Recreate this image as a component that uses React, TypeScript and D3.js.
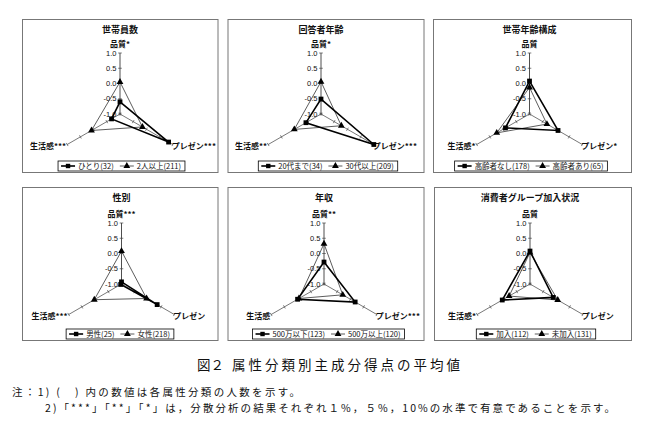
import React from "react";
import * as d3 from "d3";

// ---- data ----
const axisNames = ["品質", "プレゼン", "生活感"];
const tickValues = [1.0, 0.5, 0.0, -0.5, -1.0];
const tickLabels = ["1.0", "0.5", "0.0", "-0.5", "-1.0"];

const panelTitles = ["世帯員数", "回答者年齢", "世帯年齢構成", "性別", "年収", "消費者グループ加入状況"];
const axisStars = [
  ["*", "***", "***"],
  ["*", "***", "**"],
  ["", "*", "*"],
  ["***", "", "***"],
  ["**", "***", ""],
  ["", "", "*"],
];
const seriesANames = ["ひとり(32)", "20代まで(34)", "高齢者なし(178)", "男性(25)", "500万以下(123)", "加入(112)"];
const seriesBNames = ["2人以上(211)", "30代以上(209)", "高齢者あり(65)", "女性(218)", "500万以上(120)", "未加入(131)"];
// values in order [品質, プレゼン, 生活感]
const seriesAValues = [
  [-0.6, 0.84, -0.68],
  [-0.51, 1.0, -0.43],
  [0.08, 0.08, -0.09],
  [-0.93, 0.35, -0.97],
  [-0.28, 0.18, 0.0],
  [0.08, -0.12, 0.05],
];
const seriesBValues = [
  [0.05, -0.15, 0.08],
  [0.06, -0.23, 0.01],
  [-0.13, -0.34, 0.24],
  [0.08, -0.05, 0.03],
  [0.32, -0.29, -0.05],
  [0.03, 0.05, -0.21],
];

const figureCaptionHead = "図２";
const figureCaption = "属性分類別主成分得点の平均値";
const note1 = "注：1) (　) 内の数値は各属性分類の人数を示す。";
const note2 = "2)「***」「**」「*」は，分散分析の結果それぞれ１%，５%，10%の水準で有意であることを示す。";

// ---- layout ----
const panels = [
  { x: 22.5, y: 19.5, w: 195.5, h: 153, cx: 120, cy: 114, lx: 121.5, ly: 161 },
  { x: 228, y: 19.5, w: 196, h: 153, cx: 321, cy: 114, lx: 328, ly: 161 },
  { x: 433.5, y: 19.5, w: 198, h: 153, cx: 529.5, cy: 114, lx: 531, ly: 161 },
  { x: 22.5, y: 187.5, w: 195.5, h: 153, cx: 121.5, cy: 284, lx: 120, ly: 329 },
  { x: 228, y: 187.5, w: 196, h: 153, cx: 324, cy: 284, lx: 328.5, ly: 329 },
  { x: 434.5, y: 187.5, w: 197, h: 153, cx: 530, cy: 284, lx: 536, ly: 329 },
];

const R = 61;
const rScale = d3.scaleLinear().domain([-1, 1]).range([0, R]);
const angles = [-90, 30, 150].map((d) => (d * Math.PI) / 180);
const FONT = "'Noto Sans CJK JP', 'Noto Sans', sans-serif";
const NUMFONT = "'Liberation Sans', Arial, sans-serif";

function pt(cx: number, cy: number, i: number, v: number): [number, number] {
  const r = rScale(v);
  return [cx + r * Math.cos(angles[i]), cy + r * Math.sin(angles[i])];
}

function textW(s: string, fs: number) {
  let w = 0;
  for (const ch of s) {
    const c = ch.charCodeAt(0);
    if (c > 255) w += fs;
    else if (ch === "(" || ch === ")") w += 0.33 * fs;
    else if (ch >= "0" && ch <= "9") w += 0.556 * fs;
    else w += 0.5 * fs;
  }
  return w;
}

const closedLine = d3.line<[number, number]>().curve(d3.curveLinearClosed);
const triPath = d3.symbol().type(d3.symbolTriangle).size(20)() as string;

function Panel({ idx }: { idx: number }) {
  const p = panels[idx];
  const { cx, cy } = p;
  const ptsA = seriesAValues[idx].map((v, i) => pt(cx, cy, i, v));
  const ptsB = seriesBValues[idx].map((v, i) => pt(cx, cy, i, v));
  const legFs = 7.5;
  const t1 = seriesANames[idx];
  const t2 = seriesBNames[idx];
  const w1 = textW(t1, legFs);
  const w2 = textW(t2, legFs);
  const sw = 14;
  const legW = 3 + sw + 3 + w1 + 6 + sw + 3 + w2 + 4;
  const lx0 = p.lx - legW / 2;
  const lh = 10;
  const lyMid = p.ly + lh / 2;
  const s1x = lx0 + 3;
  const tx1 = s1x + sw + 3;
  const s2x = tx1 + w1 + 6;
  const tx2 = s2x + sw + 3;
  return (
    <g>
      <rect x={p.x} y={p.y} width={p.w} height={p.h} fill="#fff" stroke="#777" strokeWidth={1} />
      <text x={cx} y={p.y + 13} textAnchor="middle" fontSize={9} fontWeight={700} fontFamily={FONT} fill="#111">
        {panelTitles[idx]}
      </text>
      {/* axes */}
      {angles.map((a, i) => {
        const [ex, ey] = pt(cx, cy, i, 1);
        return (
          <g key={i}>
            <line x1={cx} y1={cy} x2={ex} y2={ey} stroke={i === 0 ? "#222" : "#555"} strokeWidth={0.8} />
            {tickValues.map((tv, k) => {
              const [tx, ty] = pt(cx, cy, i, tv);
              const nx = -Math.sin(a) * 1.8;
              const ny = Math.cos(a) * 1.8;
              return <line key={k} x1={tx - nx} y1={ty - ny} x2={tx + nx} y2={ty + ny} stroke="#444" strokeWidth={0.7} />;
            })}
          </g>
        );
      })}
      {/* tick labels */}
      {tickValues.map((tv, k) => {
        const [, ty] = pt(cx, cy, 0, tv);
        return (
          <text key={k} x={cx - 3.5} y={ty + 2.6} textAnchor="end" fontSize={7.5} fontFamily={NUMFONT} fill="#111">
            {tickLabels[k]}
          </text>
        );
      })}
      {/* axis labels */}
      {(() => {
        const [x0, y0] = pt(cx, cy, 0, 1);
        const [x1, y1] = pt(cx, cy, 1, 1);
        const [x2, y2] = pt(cx, cy, 2, 1);
        return (
          <g fontSize={8} fontFamily={FONT} fill="#111" fontWeight={700}>
            <text x={x0} y={y0 - 6.5} textAnchor="middle">{axisNames[0] + axisStars[idx][0]}</text>
            <text x={x1 - 1} y={y1 + 4.5} textAnchor="start">{axisNames[1] + axisStars[idx][1]}</text>
            <text x={x2 - 1} y={y2 + 4.5} textAnchor="end">{axisNames[2] + axisStars[idx][2]}</text>
          </g>
        );
      })()}
      {/* series B (thin, triangles) */}
      <path d={closedLine(ptsB) as string} fill="none" stroke="#333" strokeWidth={0.8} />
      {/* series A (thick, squares) */}
      <path d={closedLine(ptsA) as string} fill="none" stroke="#000" strokeWidth={1.6} />
      {ptsB.map(([x, y], i) => (
        <path key={"b" + i} d={triPath} transform={`translate(${x},${y})`} fill="#000" />
      ))}
      {ptsA.map(([x, y], i) => (
        <rect key={"a" + i} x={x - 2.4} y={y - 2.4} width={4.8} height={4.8} fill="#000" />
      ))}
      {/* legend */}
      <rect x={lx0} y={p.ly} width={legW} height={lh} fill="#fff" stroke="#000" strokeWidth={0.8} />
      <line x1={s1x} y1={lyMid} x2={s1x + sw} y2={lyMid} stroke="#000" strokeWidth={1.6} />
      <rect x={s1x + sw / 2 - 2.2} y={lyMid - 2.2} width={4.4} height={4.4} fill="#000" />
      <text x={tx1} y={lyMid + 2.7} fontSize={legFs} fontFamily={FONT} fill="#111">{t1}</text>
      <line x1={s2x} y1={lyMid} x2={s2x + sw} y2={lyMid} stroke="#333" strokeWidth={0.8} />
      <path d={triPath} transform={`translate(${s2x + sw / 2},${lyMid})`} fill="#000" />
      <text x={tx2} y={lyMid + 2.7} fontSize={legFs} fontFamily={FONT} fill="#111">{t2}</text>
    </g>
  );
}

export default function App() {
  return (
    <svg width={655} height={430} style={{ position: "absolute", left: 0, top: 0, background: "#fff" }}>
      <rect x={0} y={0} width={655} height={430} fill="#fff" />
      {panels.map((_, i) => (
        <Panel key={i} idx={i} />
      ))}
      <text x={197} y={370} fontSize={13.5} fontFamily={FONT} fill="#111">{figureCaptionHead}</text>
      <text x={232} y={370} fontSize={13.5} fontFamily={FONT} fill="#111" textLength={228} lengthAdjust="spacing">
        {figureCaption}
      </text>
      <text x={12} y={396} fontSize={10.5} fontFamily={FONT} fill="#111" textLength={288} lengthAdjust="spacing">
        {note1}
      </text>
      <text x={45} y={412} fontSize={10.5} fontFamily={FONT} fill="#111" textLength={570} lengthAdjust="spacing">
        {note2}
      </text>
    </svg>
  );
}
